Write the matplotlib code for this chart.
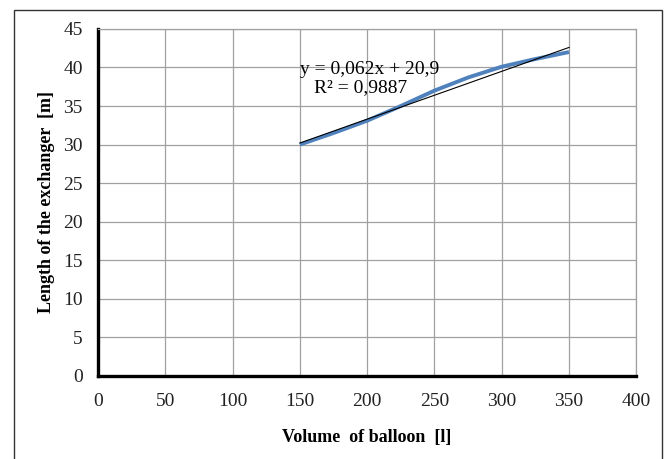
import numpy as np
import matplotlib
matplotlib.use("Agg")
import matplotlib.pyplot as plt
from matplotlib.patches import Rectangle

# ================== DATA ==================
volume = [150, 175, 200, 225, 250, 275, 300, 325, 350]
length = [30.0, 31.5, 33.1, 35.0, 37.0, 38.7, 40.1, 41.1, 42.0]

trend_slope = 0.062
trend_icpt = 20.9
trend_label = "y = 0,062x + 20,9"
r2_label = "R² = 0,9887"

x_ticks = [0, 50, 100, 150, 200, 250, 300, 350, 400]
y_ticks = [0, 5, 10, 15, 20, 25, 30, 35, 40, 45]

plt.rcParams['font.family'] = ['Liberation Serif', 'DejaVu Serif']

fig = plt.figure(figsize=(6.67, 4.59), dpi=100)
ax = fig.add_axes([0.147, 0.181, 0.807, 0.756])

# outer frame like the pasted chart box
fig.patches.append(Rectangle((14 / 667, -0.05), (662 - 14) / 667, 1 - 10 / 459 + 0.05,
                             transform=fig.transFigure, fill=False,
                             edgecolor='#333333', linewidth=1.0))

ax.plot(volume, length, color='#4f81bd', linewidth=2.8, solid_capstyle='butt')
xt = np.array([volume[0], volume[-1]])
ax.plot(xt, trend_slope * xt + trend_icpt, color='black', linewidth=0.8)

ax.text(202, 39.8, trend_label, ha='center', va='center', fontsize=14)
ax.text(195, 37.4, r2_label, ha='center', va='center', fontsize=14)

ax.set_xlim(0, 400)
ax.set_ylim(0, 45)
ax.set_xticks(x_ticks)
ax.set_yticks(y_ticks)
ax.tick_params(length=0, labelsize=14, colors='#222222')
ax.tick_params(axis='x', pad=12)
ax.tick_params(axis='y', pad=11)
ax.grid(True, color='#a0a0a0', linewidth=0.9)
ax.set_axisbelow(True)

for s in ['top', 'right']:
    ax.spines[s].set_color('#a0a0a0')
    ax.spines[s].set_linewidth(0.9)
for s in ['left', 'bottom']:
    ax.spines[s].set_color('black')
    ax.spines[s].set_linewidth(2.4)

ax.set_xlabel('Volume  of balloon  [l]', fontsize=13, fontweight='bold', labelpad=14)
ax.set_ylabel('Length of the exchanger  [m]', fontsize=13, fontweight='bold', labelpad=6)

fig.savefig('out.png', dpi=100)
